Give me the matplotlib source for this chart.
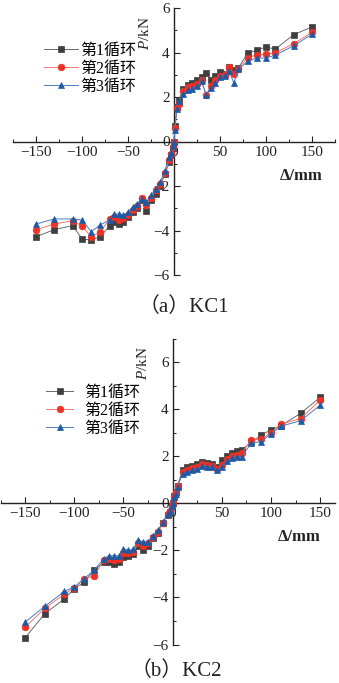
import matplotlib
matplotlib.use("Agg")
import matplotlib.pyplot as plt
from matplotlib.ticker import MultipleLocator

plt.rcParams['font.family'] = ['Liberation Serif', 'Noto Sans CJK SC']
plt.rcParams['mathtext.fontset'] = 'custom'
plt.rcParams['mathtext.it'] = 'Liberation Serif:italic'
plt.rcParams['mathtext.rm'] = 'Liberation Serif'
plt.rcParams['axes.unicode_minus'] = True

labels = ["第1循环", "第2循环", "第3循环"]

# ---- KC1 ----
kc1_disp = [-150, -130, -110, -100, -90, -80, -70, -65, -60, -55, -50, -45, -40, -35, -30,
            -25, -20, -15, -10, -5, -3, -1, 0, 1, 3, 5, 10, 15, 20, 25, 30, 35, 40, 45, 50,
            55, 60, 65, 70, 80, 90, 100, 110, 130, 150]
kc1_c1 = [-4.28, -3.96, -3.78, -4.38, -4.43, -4.28, -3.78, -3.63, -3.71, -3.63, -3.41, -3.18, -2.99,
          -2.65, -3.11, -2.65, -2.35, -1.98, -1.48, -0.93, -0.6, -0.3, 0.0, 0.7, 1.55, 1.85,
          2.35, 2.55, 2.62, 2.75, 2.92, 3.08, 2.75, 2.95, 3.12, 3.05, 3.35, 3.2, 3.3, 3.98,
          4.1, 4.25, 4.15, 4.8, 5.15]
kc1_c2 = [-3.96, -3.71, -3.56, -3.81, -4.28, -4.05, -3.48, -3.4, -3.53, -3.45, -3.3, -3.06, -2.9,
          -2.54, -2.85, -2.55, -2.2, -1.9, -1.4, -0.82, -0.55, -0.25, 0.0, 0.6, 1.5, 1.7,
          2.25, 2.45, 2.5, 2.6, 2.75, 2.1, 2.5, 2.75, 2.95, 3.0, 3.37, 3.05, 3.28, 3.75,
          3.9, 3.92, 3.98, 4.4, 4.9]
kc1_c3 = [-3.71, -3.48, -3.48, -3.53, -4.05, -3.74, -3.53, -3.26, -3.26, -3.3, -3.18, -2.95, -2.8,
          -2.58, -2.72, -2.42, -2.13, -1.83, -1.31, -0.71, -0.5, -0.2, 0.0, 0.5, 1.45, 1.8,
          2.15, 2.3, 2.38, 2.5, 2.7, 2.08, 2.4, 2.65, 2.9, 2.95, 3.15, 2.63, 3.25, 3.6,
          3.75, 3.75, 3.88, 4.3, 4.82]

# ---- KC2 ----
kc2_disp = [-150, -130, -110, -100, -90, -80, -70, -65, -60, -55, -50, -45, -40, -35, -30,
            -25, -20, -15, -10, -5, -3, -1, 0, 1, 3, 5, 10, 15, 20, 25, 30, 35, 40, 45, 50,
            55, 60, 65, 70, 80, 90, 100, 110, 130, 150]
kc2_c1 = [-5.72, -4.69, -4.06, -3.63, -3.35, -2.85, -2.5, -2.5, -2.57, -2.5, -2.3, -2.23, -2.16,
          -1.83, -2.0, -1.83, -1.48, -1.26, -0.84, -0.48, -0.35, -0.12, 0.0, 0.3, 0.5, 0.75,
          1.4, 1.55, 1.6, 1.66, 1.77, 1.73, 1.66, 1.55, 1.82, 2.02, 2.12, 2.2, 2.26, 2.6,
          2.9, 3.12, 3.3, 3.82, 4.5]
kc2_c2 = [-5.26, -4.47, -3.85, -3.6, -3.2, -3.1, -2.42, -2.35, -2.43, -2.35, -2.1, -2.1, -2.05,
          -1.7, -1.8, -1.7, -1.42, -1.2, -0.82, -0.46, -0.33, -0.11, 0.0, 0.28, 0.48, 0.72,
          1.32, 1.42, 1.5, 1.55, 1.66, 1.62, 1.58, 1.46, 1.62, 1.9, 2.02, 2.05, 2.12, 2.7,
          2.72, 3.0, 3.36, 3.6, 4.38]
kc2_c3 = [-5.05, -4.38, -3.74, -3.56, -3.2, -2.85, -2.36, -2.23, -2.23, -2.23, -1.93, -2.0, -1.95,
          -1.57, -1.63, -1.63, -1.37, -1.15, -0.8, -0.44, -0.32, -0.1, 0.0, 0.25, 0.41, 0.69,
          1.26, 1.33, 1.4, 1.47, 1.6, 1.55, 1.52, 1.4, 1.52, 1.8, 1.94, 1.96, 1.98, 2.55,
          2.62, 2.95, 3.28, 3.5, 4.17]

marker_col = ['#3f3f3f', '#ee3124', '#1d5aa5']
line_col = ['#6a6a6a', '#f07a72', '#4a7cc0']
markers = ['s', 'o', '^']

fig = plt.figure(figsize=(3.39, 6.83), dpi=100)

def panel(rect, disp, series, ylim, xlim, title, title_xy, leg_anchor, xlabel_xy, ylabel_xy,
          hlen, tpad):
    ax = fig.add_axes(rect)
    for i, s in enumerate(series):
        ax.plot(disp, s, color=line_col[i], lw=0.7, marker=markers[i], ms=4.8,
                mfc=marker_col[i], mec=marker_col[i], mew=0.5, label=labels[i], zorder=3)
    ax.set_xlim(*xlim)
    ax.set_ylim(*ylim)
    for sp in ['top', 'right']:
        ax.spines[sp].set_visible(False)
    ax.spines['left'].set_position(('data', 0))
    ax.spines['bottom'].set_position(('data', 0))
    for sp in ['left', 'bottom']:
        ax.spines[sp].set_linewidth(1.0)
        ax.spines[sp].set_color('#222222')
    ax.set_xticks([-150, -100, -50, 0, 50, 100, 150])
    ax.xaxis.set_minor_locator(MultipleLocator(25))
    ax.yaxis.set_minor_locator(MultipleLocator(1))
    ax.set_yticks([t for t in range(int(ylim[0]), int(ylim[1]) + 1, 2)])
    ax.tick_params(which='major', direction='in', length=4, width=0.8, labelsize=11,
                   color='#222222', labelcolor='#222222', pad=3)
    ax.tick_params(which='minor', direction='in', length=2.2, width=0.7, color='#222222')
    ax.patch.set_alpha(0)
    ax.legend(loc='upper left', bbox_to_anchor=leg_anchor, bbox_transform=fig.transFigure,
              frameon=False, fontsize=11.5, handlelength=hlen, handletextpad=tpad,
              labelspacing=0.12, borderaxespad=0, borderpad=0)
    fig.text(xlabel_xy[0], xlabel_xy[1], 'Δ/mm', fontsize=12,
             fontweight='bold', ha='left', va='center', color='#222222')
    fig.text(ylabel_xy[0], ylabel_xy[1], '$P$/kN', fontsize=11, rotation=90,
             ha='center', va='center', color='#222222')
    fig.text(title_xy[0], title_xy[1], title, fontsize=15, ha='center', va='center',
             color='#222222')
    return ax

W, H = 339.0, 683.0
# top panel: x from 13 to 335 px, y P=6 at 8 px, P=-6 at 275 px
panel([13 / W, (H - 275) / H, 322 / W, 267 / H], kc1_disp, [kc1_c1, kc1_c2, kc1_c3],
      (-6, 6), (-175, 175), '（a）KC1', (184 / W, 1 - 307 / H),
      (44 / W, 1 - 43 / H), (280 / W, 1 - 176 / H), (145 / W, 1 - 33 / H), 2.1, 0.2)
# bottom panel
panel([0.5 / W, (H - 644.5) / H, 334.5 / W, 306 / H], kc2_disp, [kc2_c1, kc2_c2, kc2_c3],
      (-6, 7), (-175, 165), '（b）KC2', (176 / W, 1 - 671 / H),
      (46 / W, 1 - 385 / H), (278 / W, 1 - 537 / H), (143 / W, 1 - 363 / H), 1.7, 0.7)

fig.savefig('out.png', dpi=100)
